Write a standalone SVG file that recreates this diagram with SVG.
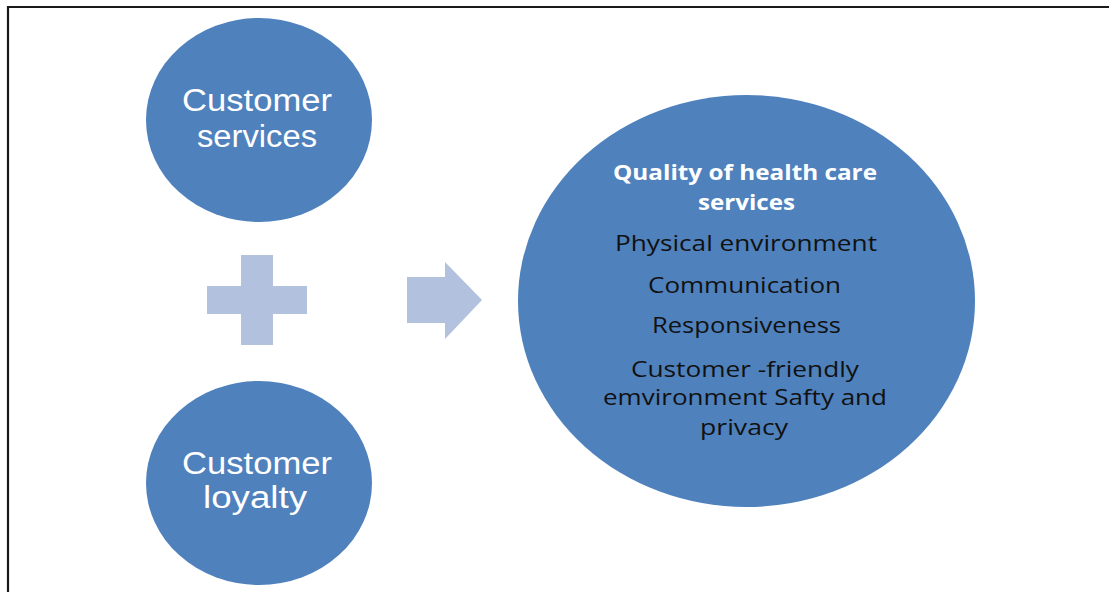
<svg xmlns="http://www.w3.org/2000/svg" width="1109" height="592" viewBox="0 0 1109 592">
<style>
.node{fill:#4F81BD}
.sym{fill:#B2C1DD}
.ct{font-family:"Liberation Sans",Arial,sans-serif;font-size:31px;fill:#FFFFFF;text-anchor:middle}
.tt{font-family:"Open Sans","Liberation Sans",sans-serif;font-size:22px;font-weight:bold;fill:#FFFFFF;text-anchor:middle}
.bt{font-family:"Open Sans","Liberation Sans",sans-serif;font-size:22px;fill:#111111;text-anchor:middle}
</style>
<rect width="1109" height="592" fill="#FFFFFF"/>
<path d="M8 593 V7 H1110" fill="none" stroke="#1a1a1a" stroke-width="2.2"/>
<g id="customer-services">
<ellipse class="node" cx="259" cy="120" rx="113" ry="102"/>
<text class="ct" x="257" y="111" textLength="150" lengthAdjust="spacingAndGlyphs">Customer</text>
<text class="ct" x="257" y="147" textLength="120" lengthAdjust="spacingAndGlyphs">services</text>
</g>
<g id="plus">
<path class="sym" d="M241 255 H273 V286 H307 V314 H273 V345 H241 V314 H207 V286 H241 Z"/>
</g>
<g id="customer-loyalty">
<ellipse class="node" cx="259" cy="483" rx="113" ry="102"/>
<text class="ct" x="257" y="474" textLength="150" lengthAdjust="spacingAndGlyphs">Customer</text>
<text class="ct" x="255" y="508" textLength="104" lengthAdjust="spacingAndGlyphs">loyalty</text>
</g>
<g id="connectors">
<path class="sym" d="M407 277 H445 V262 L482 300 L445 339 V323 H407 Z"/>
</g>
<g id="quality">
<ellipse class="node" cx="746.5" cy="301" rx="228.5" ry="206"/>
<text class="tt" x="745" y="180" textLength="264" lengthAdjust="spacingAndGlyphs">Quality of health care</text>
<text class="tt" x="746.5" y="210" textLength="97" lengthAdjust="spacingAndGlyphs">services</text>
<text class="bt" x="746" y="251" textLength="262" lengthAdjust="spacingAndGlyphs">Physical environment</text>
<text class="bt" x="744.5" y="293" textLength="193" lengthAdjust="spacingAndGlyphs">Communication</text>
<text class="bt" x="746.5" y="333" textLength="189" lengthAdjust="spacingAndGlyphs">Responsiveness</text>
<text class="bt" x="745" y="377" textLength="228" lengthAdjust="spacingAndGlyphs">Customer -friendly</text>
<text class="bt" x="745" y="405" textLength="284" lengthAdjust="spacingAndGlyphs">emvironment Safty and</text>
<text class="bt" x="744" y="435" textLength="88" lengthAdjust="spacingAndGlyphs">privacy</text>
</g>
</svg>
